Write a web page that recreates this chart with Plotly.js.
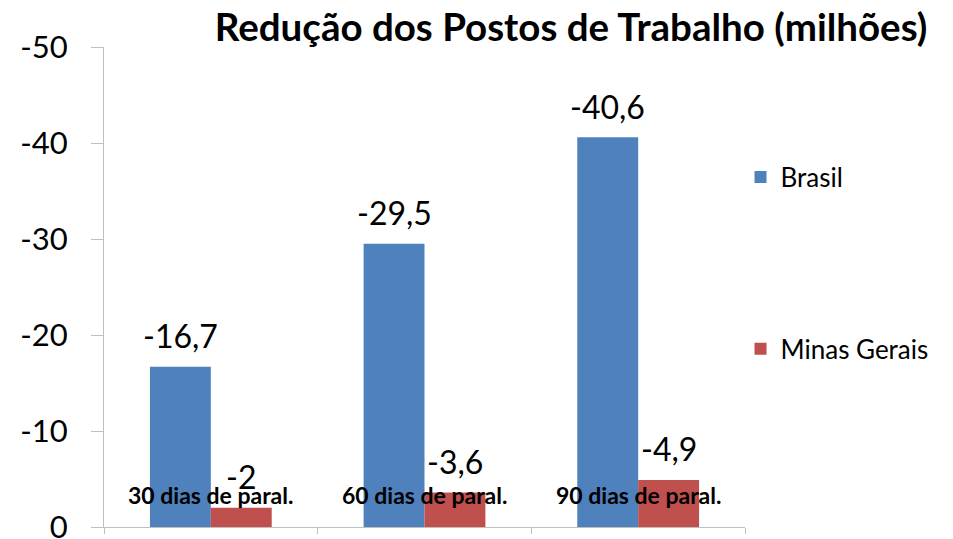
<!DOCTYPE html>
<html>
<head>
<meta charset="utf-8">
<script src="https://cdn.plot.ly/plotly-3.0.1.min.js"></script>
<style>html,body{margin:0;padding:0;background:#fff;}#chart{width:953px;height:539px;}</style>
</head>
<body>
<div id="chart"></div>
<script>
var categories = ['30 dias de paral.', '60 dias de paral.', '90 dias de paral.'];
var seriesNames = ['Brasil', 'Minas Gerais'];
var brasil = [-16.7, -29.5, -40.6];
var minasGerais = [-2.0, -3.6, -4.9];
var yTicks = [0, -10, -20, -30, -40, -50];

function fmt(v) { return String(v).replace('.', ','); }

var font = 'Lato, "Open Sans", sans-serif';
var colors = ['#4F81BD', '#C0504D'];
var seriesValues = [brasil, minasGerais];

var traces = seriesValues.map(function (vals, i) {
  return {
    type: 'bar', name: seriesNames[i], x: categories, y: vals,
    marker: { color: colors[i] },
    legendgroup: 'g' + i, hoverinfo: 'skip'
  };
});

var halfBar = 30.5;
var annotations = [];
seriesValues.forEach(function (vals, i) {
  vals.forEach(function (v, j) {
    annotations.push({
      x: categories[j], y: v, xref: 'x', yref: 'y', text: fmt(v),
      xshift: i === 0 ? -halfBar : halfBar, yshift: 31,
      showarrow: false, font: { family: font, size: 32, color: '#000' },
      xanchor: 'center', yanchor: 'middle'
    });
  });
});
categories.forEach(function (c) {
  annotations.push({
    x: c, y: -3.3, xref: 'x', yref: 'y', text: '<b>' + c + '</b>',
    showarrow: false, font: { family: font, size: 23, color: '#000' },
    xanchor: 'center', yanchor: 'middle'
  });
});

var layout = {
  width: 953, height: 539,
  margin: { l: 104, r: 208, t: 47, b: 12 },
  paper_bgcolor: '#fff', plot_bgcolor: '#fff',
  title: {
    text: '<b>Redução dos Postos de Trabalho (milhões)</b>',
    font: { family: font, size: 38.5, color: '#000' },
    x: 571 / 953, xanchor: 'center', xref: 'container', y: 1 - 28 / 539, yanchor: 'middle', yref: 'container'
  },
  barmode: 'group', bargap: 0.43, bargroupgap: 0,
  xaxis: {
    showticklabels: false, ticks: 'outside', ticklen: 6, tickcolor: '#BFBFBF',
    tickson: 'boundaries', showline: true, linecolor: '#BFBFBF', linewidth: 1,
    showgrid: false, zeroline: false, fixedrange: true
  },
  yaxis: {
    range: [0, -50], tickvals: yTicks, ticktext: yTicks.map(String),
    ticks: 'outside', ticklen: 12, tickcolor: '#BFBFBF',
    showline: true, linecolor: '#BFBFBF', linewidth: 1,
    showgrid: false, zeroline: false, ticklabelstandoff: 17,
    ticklabeloverflow: 'allow',
    tickfont: { family: font, size: 31, color: '#000' }, fixedrange: true
  },
  showlegend: true,
  legend: {
    x: 0.993, xanchor: 'left', y: 0.778, yanchor: 'top',
    font: { family: font, size: 26, color: '#000' },
    traceorder: 'grouped', tracegroupgap: 135,
    bgcolor: 'rgba(0,0,0,0)', itemwidth: 30
  },
  annotations: annotations
};

Plotly.newPlot('chart', traces, layout, { displayModeBar: false, staticPlot: true });
</script>
</body>
</html>
